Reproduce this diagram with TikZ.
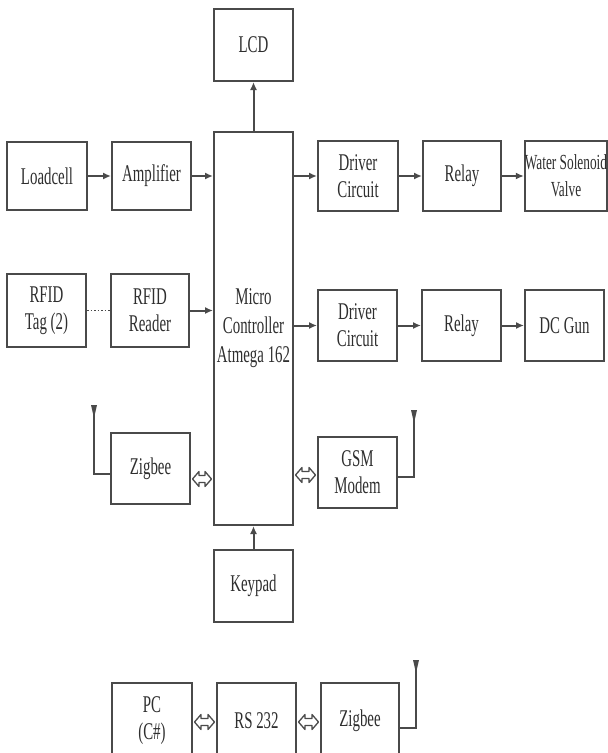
\documentclass[tikz,border=0pt]{standalone}
\usepackage{fontspec}
\setmainfont{Liberation Serif}[FakeStretch=0.62]
\usetikzlibrary{arrows.meta,calc}
\definecolor{lc}{HTML}{4A4A4A}
\definecolor{tc}{HTML}{2E2E2E}
\newcommand{\hollowdbl}[2]{%
  \draw[dblo] (#1) -- ($(#1)+(6.5,-7.5)$) -- ($(#1)+(6.5,-3.5)$) -- ($(#2)+(-6.5,-3.5)$) -- ($(#2)+(-6.5,-7.5)$) -- (#2)
    -- ($(#2)+(-6.5,7.5)$) -- ($(#2)+(-6.5,3.5)$) -- ($(#1)+(6.5,3.5)$) -- ($(#1)+(6.5,7.5)$) -- cycle;}
\begin{document}
\begin{tikzpicture}[x=1pt,y=-1pt,
  box/.style={draw=lc, line width=2pt, minimum width=79pt, minimum height=70pt, align=center, inner sep=0pt, text=tc, font=\fontsize{24}{27}\selectfont},
  arr/.style={draw=lc, line width=2pt, -{Latex[length=8pt,width=7pt]}},
  dblo/.style={draw=lc, line width=1.3pt, line join=round},
  ant/.style={draw=lc, line width=2pt}]
\useasboundingbox (0,0) rectangle (608,753);
\clip (0,0) rectangle (608,753);
% nodes
\node[box, minimum height=72pt] (lcd) at (253.5,45) {LCD};
\node[box, minimum height=393pt, font=\fontsize{24}{29}\selectfont] (mc) at (253.5,328.5) {Micro\\Controller\\Atmega 162};
\node[box, minimum height=68pt, minimum width=80pt] (load) at (47,176) {Loadcell};
\node[box, minimum height=68pt] (amp) at (151.5,176) {Amplifier};
\node[box, minimum height=70pt, minimum width=80pt] (drv1) at (358,176) {Driver\\Circuit};
\node[box, minimum height=70pt, minimum width=78pt] (rel1) at (462,176) {Relay};
\node[box, minimum height=70pt, minimum width=81pt, font=\fontsize{21.5}{27}\selectfont] (wsv) at (566,176) {Water Solenoid\\Valve};
\node[box, minimum height=73pt] (tag) at (46.5,310.5) {RFID\\Tag (2)};
\node[box, minimum height=73pt, minimum width=78pt] (rdr) at (150,310.5) {RFID\\Reader};
\node[box, minimum height=71pt] (drv2) at (357.5,325.5) {Driver\\Circuit};
\node[box, minimum height=71pt] (rel2) at (461.5,325.5) {Relay};
\node[box, minimum height=71pt] (dcg) at (564.5,325.5) {DC Gun};
\node[box, minimum height=71pt] (zigL) at (150.5,468.5) {Zigbee};
\node[box, minimum height=71pt] (gsm) at (357.5,472.5) {GSM\\Modem};
\node[box, minimum height=72pt] (kp) at (253.5,586) {Keypad};
\node[box, minimum height=76pt, minimum width=80pt] (pc) at (152,721) {PC\\(C\#)};
\node[box, minimum height=76pt] (rs) at (256.5,721) {RS 232};
\node[box, minimum height=76pt, minimum width=78pt] (zigB) at (360,721) {Zigbee};
% connectors
\draw[arr] (mc.north) -- (lcd.south);
\draw[arr] (kp.north) -- (mc.south);
\draw[arr] (load) -- (amp);
\draw[arr] (amp.east) -- (amp.east -| mc.west);
\draw[arr] (mc.east |- drv1) -- (drv1.west);
\draw[arr] (drv1) -- (rel1);
\draw[arr] (rel1) -- (wsv);
\draw[lc, dotted, line width=1.5pt] (tag) -- (rdr);
\draw[arr] (rdr.east) -- (rdr.east -| mc.west);
\draw[arr] (mc.east |- drv2) -- (drv2.west);
\draw[arr] (drv2) -- (rel2);
\draw[arr] (rel2) -- (dcg);
% hollow double arrows
\coordinate (z1) at ([xshift=1.5pt,yshift=-10.5pt]zigL.east);
\coordinate (z2) at ([xshift=-1.5pt]z1 -| mc.west);
\coordinate (g2) at ([xshift=-1.5pt,yshift=-2.5pt]gsm.west);
\coordinate (g1) at ([xshift=1.5pt]g2 -| mc.east);
\coordinate (p1) at ([xshift=1.5pt,yshift=-1pt]pc.east);
\coordinate (p2) at ([xshift=-1.5pt]p1 -| rs.west);
\coordinate (r1) at ([xshift=1.5pt,yshift=-1pt]rs.east);
\coordinate (r2) at ([xshift=-1.5pt]r1 -| zigB.west);
\hollowdbl{z1}{z2}
\hollowdbl{g1}{g2}
\hollowdbl{p1}{p2}
\hollowdbl{r1}{r2}
% antennas
\coordinate (antL) at (94,405);
\coordinate (antG) at (414,410);
\coordinate (antB) at (416,660);
\draw[ant] ([yshift=-5pt]zigL.west) -| (antL);
\draw[ant] ([yshift=-4.5pt]gsm.east) -| (antG);
\draw[ant] ([yshift=-7pt]zigB.east) -| (antB);
\foreach \a in {antL,antG,antB}{
  \fill[lc] ([xshift=-3pt]\a) -- ([xshift=3pt]\a) -- ([yshift=-13pt]\a) -- cycle;
}
\end{tikzpicture}
\end{document}
